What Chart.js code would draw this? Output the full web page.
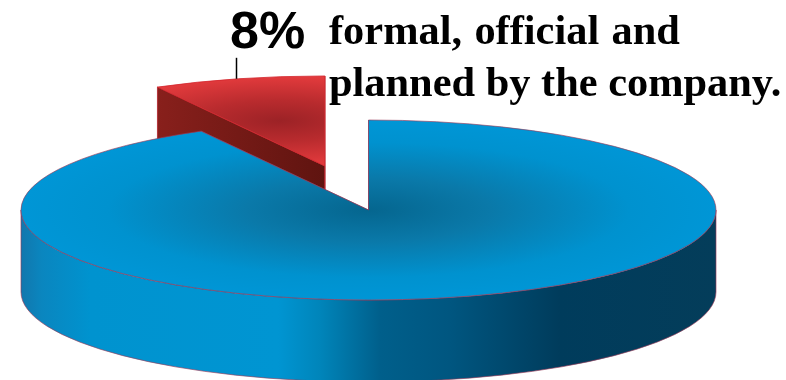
<!DOCTYPE html>
<html>
<head>
<meta charset="utf-8">
<style>
  html, body { margin: 0; padding: 0; background: #fff; }
  #wrap { position: relative; width: 786px; height: 380px; overflow: hidden; }
  canvas { position: absolute; left: 0; top: 0; }
  .pct { position: absolute; left: 230px; top: 0; font: bold 52px/60px "Liberation Sans", sans-serif; color: #000; }
  .note { position: absolute; left: 329px; top: 3.5px; font: bold 42.4px/52px "Liberation Serif", serif; color: #000; white-space: nowrap; }
  .note span { word-spacing: 1.8px; }
</style>
<script src="https://cdn.jsdelivr.net/npm/chart.js@4"></script>
</head>
<body>
<div id="wrap">
  <canvas id="pie" width="786" height="380"></canvas>
  <div class="pct" id="pct"></div>
  <div class="note"><span>formal, official and</span><br>planned by the company.</div>
</div>
<script>
const categories = ["formal, official and planned by the company.", "other"];
const values = [8, 92];

// disc shape
const RADIUS = 347.5;
const TILT = 90 / 347.5;
const DEPTH = 82;
const EXPLODE = 175.5;
const LEADER = 21;

document.getElementById('pct').textContent = values[0] + '%';

const centre = chart => ({
  x: (chart.chartArea.left + chart.chartArea.right) / 2,
  y: (chart.chartArea.top + chart.chartArea.bottom) / 2
});

function topFill(c) {
  const chart = c.chart;
  if (!chart.chartArea) return '#0095d2';
  const { x, y } = centre(chart);
  const ctx = chart.ctx;
  if (c.dataIndex === 0) {
    // red slice, shaded around its middle
    const half = values[0] * 1.8 * Math.PI / 180;
    const dist = EXPLODE + RADIUS * 0.52;
    const gx = x - Math.sin(half) * dist, gy = y - Math.cos(half) * dist;
    const g = ctx.createRadialGradient(gx, gy, 0, gx, gy, 175);
    g.addColorStop(0, '#9c2226');
    g.addColorStop(0.45, '#b92b2e');
    g.addColorStop(1, '#e43b3d');
    return g;
  }
  const g = ctx.createRadialGradient(x, y, 0, x, y, RADIUS);
  g.addColorStop(0, '#05668f');
  g.addColorStop(0.35, '#0a79a9');
  g.addColorStop(0.75, '#0092cf');
  g.addColorStop(1, '#0096d6');
  return g;
}

function wallFill(ctx, i, arc) {
  if (i === 0) {
    const g = ctx.createLinearGradient(arc.x - RADIUS * 0.5, 0, arc.x, 0);
    g.addColorStop(0, '#8a201c');
    g.addColorStop(1, '#5f1410');
    return g;
  }
  const g = ctx.createLinearGradient(arc.x - RADIUS, 0, arc.x + RADIUS, 0);
  g.addColorStop(0, '#1277ad');
  g.addColorStop(0.03, '#0a86bf');
  g.addColorStop(0.1, '#0093cf');
  g.addColorStop(0.37, '#0095d2');
  g.addColorStop(0.43, '#0085ba');
  g.addColorStop(0.517, '#005f8b');
  g.addColorStop(0.617, '#005680');
  g.addColorStop(0.775, '#003c5c');
  g.addColorStop(1, '#043d5a');
  return g;
}

const pie3d = {
  id: 'pie3d',
  afterDatasetsUpdate(chart) {
    // pull the small slice out along its bisector
    const arc = chart.getDatasetMeta(0).data[0];
    const mid = (arc.startAngle + arc.endAngle) / 2;
    arc.x += Math.cos(mid) * EXPLODE;
    arc.y += Math.sin(mid) * EXPLODE;
  },
  beforeDatasetDraw(chart) {
    const ctx = chart.ctx;
    const c = centre(chart);
    const arcs = chart.getDatasetMeta(0).data;
    const flat = y => c.y + (y - c.y) * TILT;

    // side walls go first, the top faces cover whatever should be hidden
    arcs.forEach((arc, i) => {
      const px = a => arc.x + Math.cos(a) * RADIUS;
      const py = a => flat(arc.y) + Math.sin(a) * RADIUS * TILT;
      ctx.save();
      ctx.fillStyle = wallFill(ctx, i, arc);
      ctx.strokeStyle = i === 0 ? '#b3212a' : 'rgba(154,58,88,0.8)';
      ctx.lineWidth = 0.8;
      [arc.startAngle, arc.endAngle].forEach(a => {
        ctx.beginPath();
        ctx.moveTo(arc.x, flat(arc.y));
        ctx.lineTo(px(a), py(a));
        ctx.lineTo(px(a), py(a) + DEPTH);
        ctx.lineTo(arc.x, flat(arc.y) + DEPTH);
        ctx.closePath();
        ctx.fill();
        ctx.stroke();
      });
      const lo = Math.max(arc.startAngle, 0), hi = Math.min(arc.endAngle, Math.PI);
      if (lo < hi) {
        ctx.beginPath();
        ctx.ellipse(arc.x, flat(arc.y), RADIUS, RADIUS * TILT, 0, lo, hi);
        ctx.ellipse(arc.x, flat(arc.y) + DEPTH, RADIUS, RADIUS * TILT, 0, hi, lo, true);
        ctx.closePath();
        ctx.fill();
        ctx.stroke();
      }
      ctx.restore();
    });

    ctx.save();
    ctx.translate(c.x, c.y);
    ctx.scale(1, TILT);
    ctx.translate(-c.x, -c.y);
  },
  afterDatasetDraw(chart) {
    const ctx = chart.ctx;
    ctx.restore();
    const c = centre(chart);
    const flat = y => c.y + (y - c.y) * TILT;

    // outlines stroked unsquashed so the line weight stays even
    chart.getDatasetMeta(0).data.forEach((arc, i) => {
      ctx.beginPath();
      ctx.moveTo(arc.x, flat(arc.y));
      ctx.ellipse(arc.x, flat(arc.y), RADIUS, RADIUS * TILT, 0, arc.startAngle, arc.endAngle);
      ctx.closePath();
      ctx.lineWidth = 0.8;
      ctx.strokeStyle = i === 0 ? '#d3242c' : 'rgba(154,58,88,0.8)';
      ctx.stroke();
    });

    // leader from the middle of the slice rim up to the percentage
    const arc = chart.getDatasetMeta(0).data[0];
    const mid = (arc.startAngle + arc.endAngle) / 2;
    const lx = Math.round(arc.x + Math.cos(mid) * RADIUS) - 1.5;
    const ly = flat(arc.y) + Math.sin(mid) * RADIUS * TILT;
    ctx.beginPath();
    ctx.moveTo(lx, ly);
    ctx.lineTo(lx, ly - LEADER);
    ctx.lineWidth = 1.5;
    ctx.strokeStyle = '#000';
    ctx.stroke();
  }
};

new Chart(document.getElementById('pie'), {
  type: 'pie',
  data: {
    labels: categories,
    datasets: [{ data: values, backgroundColor: topFill, borderWidth: 0 }]
  },
  options: {
    responsive: false,
    animation: false,
    events: [],
    radius: RADIUS,
    rotation: -values[0] * 3.6,
    layout: { padding: { right: 49, top: 40 } },
    plugins: { legend: { display: false }, tooltip: { enabled: false } }
  },
  plugins: [pie3d]
});
</script>
</body>
</html>
